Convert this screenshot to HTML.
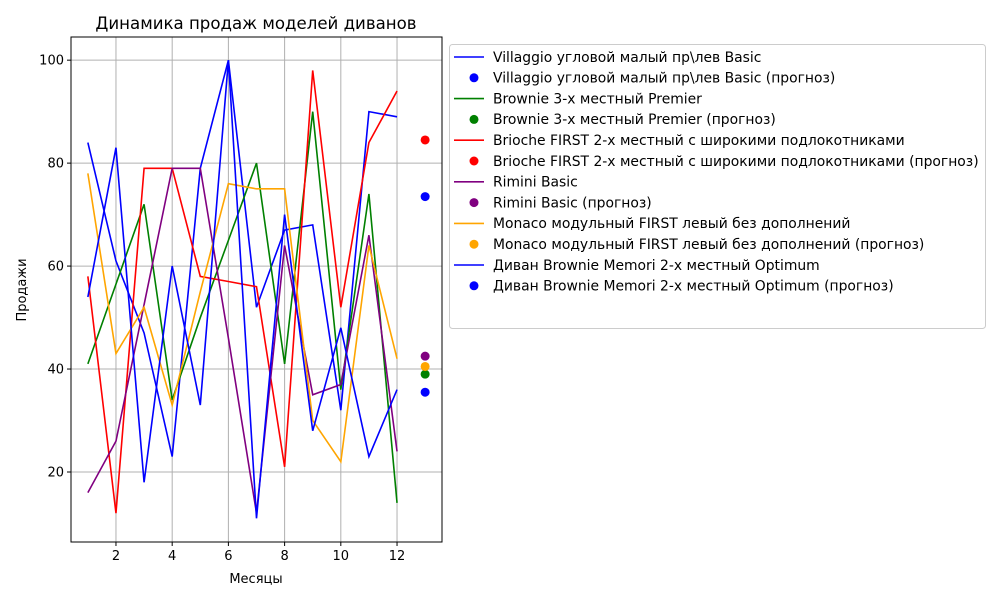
<!DOCTYPE html>
<html><head><meta charset="utf-8"><style>
body{margin:0;background:#fff;font-family:"Liberation Sans","DejaVu Sans",sans-serif;}
svg text{font-family:"DejaVu Sans","Liberation Sans",sans-serif;}
</style></head><body>
<svg id="c" width="1000" height="600" xmlns="http://www.w3.org/2000/svg"></svg>
<script>
const months=[1,2,3,4,5,6,7,8,9,10,11,12];
const forecastMonth=13;
const xTicks=[2,4,6,8,10,12];
const yTicks=[20,40,60,80,100];
const names=["Villaggio угловой малый пр\\лев Basic","Brownie 3-х местный Premier","Brioche FIRST 2-х местный с широкими подлокотниками","Rimini Basic","Monaco модульный FIRST левый без дополнений","Диван Brownie Memori 2-х местный Optimum"];
const colors=["blue","green","red","purple","orange","blue"];
const s0=[84,61,47,23,79,100,52,67,68,32,90,89];
const s1=[41,56.5,72,34,50,65,80,41,90,36,74,14];
const s2=[58,12,79,79,58,57,56,21,98,52,84,94];
const s3=[16,26,52.5,79,79,46,12,64,35,37,66,24];
const s4=[78,43,52,33,55,76,75,75,30,22,64,42];
const s5=[54,83,18,60,33,100,11,70,28,48,23,36];
const forecasts=[73.5,39,84.5,42.5,40.5,35.5];
const series=[s0,s1,s2,s3,s4,s5];

const L=71,R=442,T=37,B=542,xmin=0.4,xmax=13.6,ymin=6.4,ymax=104.5;
const X=v=>L+(v-xmin)/(xmax-xmin)*(R-L);
const Y=v=>B-(v-ymin)/(ymax-ymin)*(B-T);
const svg=document.getElementById('c');
const NS="http://www.w3.org/2000/svg";
function mk(tag,attrs,parent){const e=document.createElementNS(NS,tag);for(const k in attrs)e.setAttribute(k,attrs[k]);(parent||svg).appendChild(e);return e;}

const t=mk('text',{x:256,y:29,'text-anchor':'middle','font-size':16.6});t.textContent="Динамика продаж моделей диванов";



xTicks.forEach(v=>{const g=mk('line',{x1:X(v),x2:X(v),y1:T,y2:B,stroke:'#b0b0b0','stroke-width':1});


mk('line',{x1:X(v),x2:X(v),y1:B,y2:B+4,stroke:'#000'});
const l=mk('text',{x:X(v),y:B+18,'text-anchor':'middle','font-size':13});l.textContent=v;

});
yTicks.forEach(v=>{const g=mk('line',{x1:L,x2:R,y1:Y(v),y2:Y(v),stroke:'#b0b0b0','stroke-width':1});


mk('line',{x1:L-4,x2:L,y1:Y(v),y2:Y(v),stroke:'#000'});
const l=mk('text',{x:L-7,y:Y(v)+4.5,'text-anchor':'end','font-size':13});l.textContent=v;

});

series.forEach((s,i)=>{
 const p=mk('polyline',{points:s.map((v,j)=>X(months[j])+','+Y(v)).join(' '),fill:'none',stroke:colors[i],'stroke-width':1.6});
 
 
 const c=mk('circle',{cx:X(forecastMonth),cy:Y(forecasts[i]),r:4.5,fill:colors[i]});
 
 
});
const fr=mk('rect',{x:L,y:T,width:R-L,height:B-T,fill:'none',stroke:'#000','stroke-width':1});


const xl=mk('text',{x:256,y:583,'text-anchor':'middle','font-size':13});xl.textContent="Месяцы";


const yl=mk('text',{x:26,y:290,'text-anchor':'middle','font-size':13,transform:'rotate(-90 26 290)'});yl.textContent="Продажи";



const lg=mk('rect',{x:449.5,y:44.5,width:536,height:284,rx:3,fill:'#fff',stroke:'#ccc'});


let row=0;
names.forEach((n,i)=>{
 [false,true].forEach(fc=>{
  const y=57+row*20.8;
  if(fc){mk('circle',{cx:474,cy:y,r:4.5,fill:colors[i]});}
  else{mk('line',{x1:454,x2:484,y1:y,y2:y,stroke:colors[i],'stroke-width':1.6});}
  const tx=mk('text',{x:493,y:y+4.8,'font-size':13.9});tx.textContent=n+(fc?" (прогноз)":"");
  
  
  row++;
 });
});
</script>
</body></html>
